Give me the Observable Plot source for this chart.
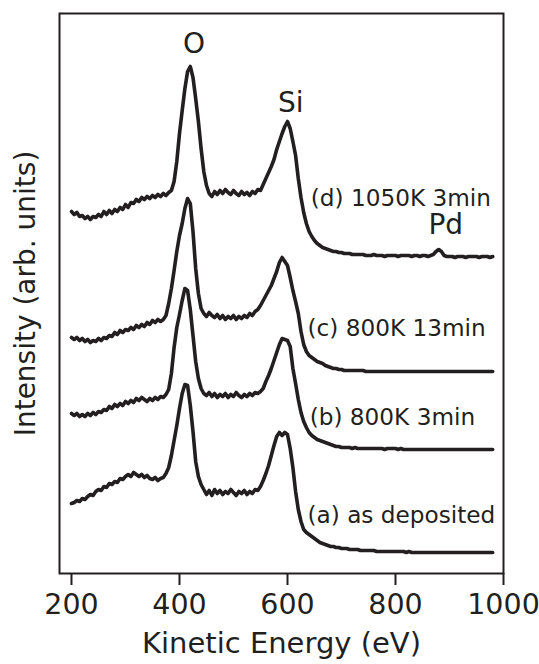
<!DOCTYPE html>
<html>
<head>
<meta charset="utf-8">
<script src="https://cdn.jsdelivr.net/npm/d3@7"></script>
<script src="https://cdn.jsdelivr.net/npm/@observablehq/plot@0.6"></script>
<style>
  html, body { margin: 0; padding: 0; background: #fff; }
  #chart svg { display: block; }
</style>
</head>
<body>
<div id="chart"></div>
<script>
// Kinetic energy grid (eV)
const energy = [
  200,205,210,215,220,225,230,235,240,245,
  250,255,260,265,270,275,280,285,290,295,
  300,305,310,315,320,325,330,335,340,345,
  350,355,360,365,370,375,380,385,390,395,
  400,405,410,415,420,425,430,435,440,445,
  450,455,460,465,470,475,480,485,490,495,
  500,505,510,515,520,525,530,535,540,545,
  550,555,560,565,570,575,580,585,590,595,
  600,605,610,615,620,625,630,635,640,645,
  650,655,660,665,670,675,680,685,690,695,
  700,705,710,715,720,725,730,735,740,745,
  750,755,760,765,770,775,780,785,790,795,
  800,805,810,815,820,825,830,835,840,845,
  850,855,860,865,870,875,880,885,890,895,
  900,905,910,915,920,925,930,935,940,945,
  950,955,960,965,970,975,980
];

// Intensities (arb. units, offset stacked)
const seriesA = [
  70,71,73,72,75,74,77,79,78,82,
  84,83,87,86,90,89,92,91,95,94,
  97,99,97,101,99,97,99,96,98,95,
  94,96,93,95,96,100,106,118,133,148,
  165,180,189,188,168,142,112,97,89,84,
  79,83,78,84,80,83,79,82,80,84,
  81,78,82,80,83,79,82,80,84,83,
  87,93,100,108,118,128,137,141,138,141,
  139,125,106,82,64,52,44,41,39,37,
  35,33,31,30,29,28,27,27,26,26,
  25,25,25,24,24,24,24,23,23,23,
  23,23,23,22,22,22,22,22,22,22,
  22,22,22,22,21,22,21,21,21,21,
  21,21,21,21,21,21,21,21,21,21,
  21,21,21,21,21,21,21,21,21,21,
  21,21,21,21,21,21,21
];
const seriesB = [
  160,158,160,157,159,157,160,158,161,159,
  162,161,164,163,167,165,169,167,170,168,
  172,170,173,171,175,173,176,174,172,175,
  173,176,174,177,176,179,184,200,226,246,
  259,273,285,283,264,238,212,195,185,180,
  178,181,177,180,176,179,177,180,176,179,
  177,181,178,176,179,177,180,178,181,180,
  182,185,192,198,205,213,221,229,235,234,
  233,227,205,190,174,161,152,146,141,138,
  136,134,133,132,131,130,129,128,127,127,
  126,126,126,126,125,126,125,125,125,125,
  125,125,125,125,125,125,124,125,125,125,
  125,124,125,124,124,124,124,124,124,124,
  124,124,124,124,124,124,124,124,124,124,
  124,124,124,124,124,124,124,124,124,124,
  124,124,124,124,124,124,124
];
const seriesC = [
  236,234,236,233,235,232,234,231,233,232,
  235,233,236,235,238,237,241,239,243,241,
  244,243,246,244,248,246,249,247,251,249,
  253,251,254,252,254,258,270,285,303,322,
  338,350,365,375,370,342,305,280,265,260,
  257,261,258,256,259,255,258,254,257,255,
  258,254,257,255,258,256,260,258,262,264,
  268,273,278,283,288,295,302,311,316,312,
  308,296,283,272,260,242,229,222,218,216,
  214,212,211,210,208,207,206,205,205,204,
  204,203,203,203,203,203,203,203,203,202,
  202,202,202,202,202,202,202,202,202,202,
  202,202,202,202,202,202,202,202,202,202,
  202,202,202,202,202,202,202,202,202,202,
  202,202,202,202,202,202,202,202,202,202,
  202,202,202,202,202,202,202
];
const seriesD = [
  362,359,361,357,358,355,357,354,357,356,
  359,357,362,359,363,360,364,362,366,364,
  369,366,371,370,374,372,376,374,377,375,
  378,376,379,377,380,378,381,383,392,412,
  440,463,485,502,507,496,475,452,425,402,
  388,380,377,382,379,383,380,384,381,379,
  383,380,378,382,379,381,378,382,380,384,
  383,389,395,401,407,414,424,432,440,447,
  452,445,432,418,395,376,361,350,342,337,
  333,330,328,326,325,324,323,322,322,321,
  321,320,320,320,319,319,319,319,319,318,
  318,318,319,318,318,318,317,318,318,318,
  318,317,318,318,318,318,317,318,318,317,
  318,318,317,318,319,322,324,322,318,317,
  317,317,316,317,317,317,316,317,317,317,
  317,316,317,317,317,316,317
];

const seriesNames = ["a", "b", "c", "d"];
const seriesValues = [seriesA, seriesB, seriesC, seriesD];

// Annotations
const conditionLabels = ["(a) as deposited", "(b) 800K 3min", "(c) 800K 13min", "(d) 1050K 3min"];
const conditionLabelE = [637, 641, 637, 643];
const conditionLabelI = [58, 156, 245, 375];

const peakLabels = ["O", "Si", "Pd"];
const peakLabelE = [427, 606, 893];
const peakLabelI = [529, 470, 348];

const xTicks = [200, 400, 600, 800, 1000];
const xTickLabels = ["200", "400", "600", "800", "1000"];
const xTitle = "Kinetic Energy (eV)";
const yTitle = "Intensity (arb. units)";

const rows = [];
seriesNames.forEach((name, s) => {
  energy.forEach((e, i) => rows.push({series: name, energy: e, value: seriesValues[s][i]}));
});
const condRows = conditionLabels.map((t, i) => ({text: t, energy: conditionLabelE[i], value: conditionLabelI[i]}));
const peakRows = peakLabels.map((t, i) => ({text: t, energy: peakLabelE[i], value: peakLabelI[i]}));

const ink = "#231f20";

const chart = Plot.plot({
  width: 539,
  height: 664,
  marginLeft: 59,
  marginRight: 36,
  marginTop: 13,
  marginBottom: 91,
  style: {fontFamily: "'DejaVu Sans', sans-serif", background: "#fff", color: ink},
  x: {domain: [177.8, 1000], axis: null},
  y: {domain: [0, 560], axis: null},
  marks: [
    Plot.line(rows, {x: "energy", y: "value", z: "series", stroke: ink, strokeWidth: 3.6, strokeLinejoin: "round", strokeLinecap: "round"}),
    Plot.frame({stroke: ink, strokeWidth: 2}),
    Plot.axisX({ticks: xTicks, tickFormat: (d) => xTickLabels[xTicks.indexOf(d)], tickSize: 12, tickPadding: 8, fontSize: 28.5, strokeWidth: 2, stroke: ink, fill: ink, label: null}),
    Plot.text([xTitle], {frameAnchor: "bottom", text: d => d, lineAnchor: "top", dy: 59, fontSize: 29, fill: ink}),
    Plot.text([yTitle], {frameAnchor: "left", text: d => d, rotate: -90, lineAnchor: "middle", textAnchor: "middle", dx: -33, fontSize: 28, fill: ink}),
    Plot.text(condRows, {x: "energy", y: "value", text: "text", textAnchor: "start", lineAnchor: "middle", fontSize: 23.2, fill: ink}),
    Plot.text(peakRows, {x: "energy", y: "value", text: "text", textAnchor: "middle", lineAnchor: "middle", fontSize: 28, fill: ink})
  ]
});
document.getElementById("chart").appendChild(chart);
</script>
</body>
</html>
